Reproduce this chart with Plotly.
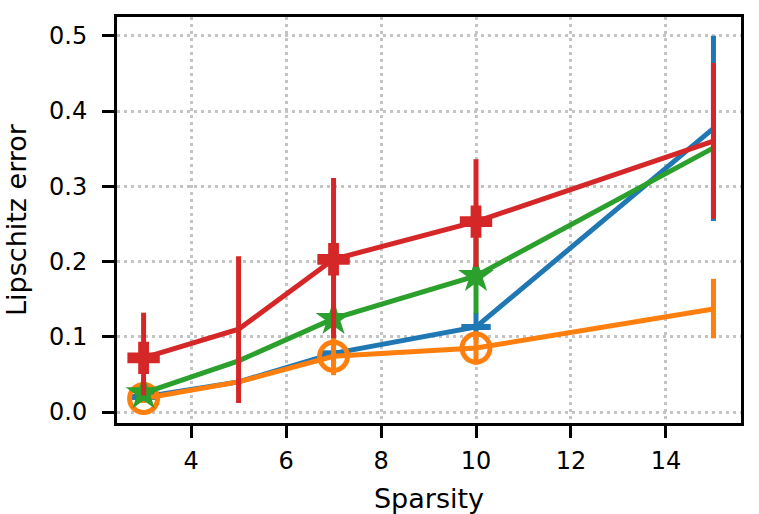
import plotly.graph_objects as go

# Data
sparsity = [3, 5, 7, 10, 15]

blue_y = [0.020, 0.040, 0.078, 0.113, 0.377]
blue_err_plus = [0.008, 0.005, 0.008, 0.019, 0.123]
blue_err_minus = [0.008, 0.005, 0.018, 0.017, 0.123]

orange_y = [0.018, 0.040, 0.074, 0.085, 0.137]
orange_err_plus = [0.006, 0.004, 0.025, 0.022, 0.040]
orange_err_minus = [0.006, 0.004, 0.025, 0.022, 0.039]

green_y = [0.025, 0.068, 0.124, 0.181, 0.351]
green_err_plus = [0.010, 0.005, 0.020, 0.050, 0.010]
green_err_minus = [0.010, 0.005, 0.020, 0.050, 0.010]

red_y = [0.072, 0.110, 0.203, 0.253, 0.360]
red_err_plus = [0.060, 0.097, 0.108, 0.083, 0.104]
red_err_minus = [0.050, 0.098, 0.105, 0.060, 0.103]

x_ticks = [4, 6, 8, 10, 12, 14]
y_ticks = [0.0, 0.1, 0.2, 0.3, 0.4, 0.5]

# markers are only drawn at some of the points
marker_on = [True, False, True, True, False]

# name, values, err+, err-, colour, symbol, marker size, marker outline width
series = [
    ("blue", blue_y, blue_err_plus, blue_err_minus, "#1f77b4", "line-ew", 21, 6),
    ("orange", orange_y, orange_err_plus, orange_err_minus, "#ff7f0e", "circle-open", 28, 5),
    ("green", green_y, green_err_plus, green_err_minus, "#2ca02c", "star", 27, 0),
    ("red", red_y, red_err_plus, red_err_minus, "#d62728", "cross", 27, 0),
]

FONT = "DejaVu Sans"

fig = go.Figure()

for name, y, ep, em, color, symbol, msize, mline in series:
    fig.add_trace(
        go.Scatter(
            x=sparsity,
            y=y,
            mode="lines+markers",
            name=name,
            line=dict(color=color, width=5),
            marker=dict(
                symbol=symbol,
                size=[msize if m else 0 for m in marker_on],
                color=color,
                opacity=1,
                line=dict(color=color, width=mline),
            ),
            error_y=dict(
                type="data",
                symmetric=False,
                array=ep,
                arrayminus=em,
                color=color,
                thickness=5,
                width=0,
            ),
            showlegend=False,
        )
    )

axis_common = dict(
    showline=True,
    linecolor="black",
    linewidth=3,
    mirror=True,
    ticks="outside",
    tickcolor="black",
    ticklen=12,
    tickwidth=3,
    showgrid=True,
    gridcolor="#c4c4c4",
    gridwidth=2.5,
    griddash="3px,4px",
    zeroline=False,
    automargin=False,
    tickfont=dict(family=FONT, size=24, color="black"),
)

fig.update_xaxes(
    range=[2.44, 15.58],
    tickvals=x_ticks,
    ticklabelstandoff=2,
    title=dict(text="Sparsity", font=dict(family=FONT, size=27, color="black"), standoff=22),
    **axis_common,
)
fig.update_yaxes(
    range=[-0.0146, 0.525],
    tickvals=y_ticks,
    tickformat=".1f",
    ticklabelstandoff=10,
    title=dict(text="Lipschitz error", font=dict(family=FONT, size=27, color="black"), standoff=15),
    **axis_common,
)

fig.update_layout(
    width=759,
    height=514,
    margin=dict(l=117, r=18, t=17, b=91),
    plot_bgcolor="white",
    paper_bgcolor="white",
)

# drop the page's default body margin so the figure fills the window
fig.write_html(
    "out.html",
    config={"displayModeBar": False},
    post_script="document.body.style.margin = '0';",
)
